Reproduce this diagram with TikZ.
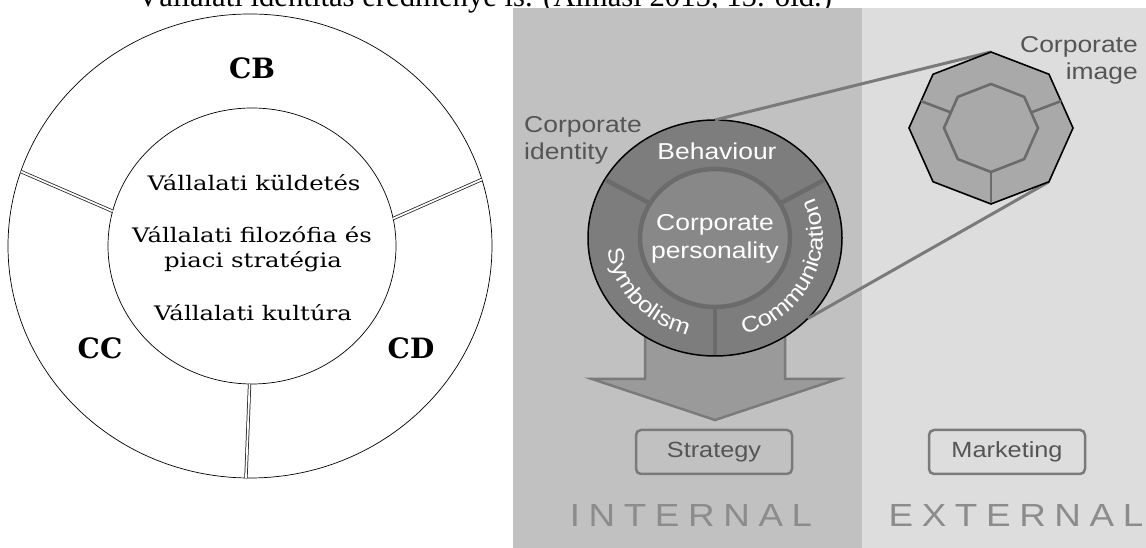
\documentclass[tikz,border=0pt]{standalone}
\usepackage{fontspec}
\setmainfont{Liberation Serif}
\newfontfamily\lserif[FakeStretch=1.22]{DejaVu Serif}
\newfontfamily\bserif{DejaVu Serif}
\newfontfamily\rsans[FakeStretch=1.15]{Liberation Sans}
\newfontfamily\spsans[FakeStretch=1.15,LetterSpace=27]{Liberation Sans}
\usetikzlibrary{shapes.geometric,decorations.text,calc}
\definecolor{intbg}{HTML}{C1C1C1}
\definecolor{extbg}{HTML}{DDDDDD}
\definecolor{ringfill}{HTML}{7D7D7D}
\definecolor{corefill}{HTML}{888888}
\definecolor{corebord}{HTML}{6B6B6B}
\definecolor{arrowfill}{HTML}{9A9A9A}
\definecolor{arrowbord}{HTML}{7A7A7A}
\definecolor{octfill}{HTML}{A9A9A9}
\definecolor{labgray}{HTML}{555555}
\definecolor{biggray}{HTML}{8C8C8C}
\definecolor{boxbord}{HTML}{7A7A7A}
\tikzset{
  dbl/.style={draw=black!90, line width=0.75pt, double=white, double distance=1.8pt},
  inlbl/.style={font=\lserif\fontsize{20}{20}\selectfont, inner sep=0},
  biglbl/.style={font=\bserif\bfseries\fontsize{28}{28}\selectfont, inner sep=0},
  ringdiv/.style={draw=corebord, line width=4.5pt},
  conn/.style={draw=arrowbord, line width=3pt},
  whitelbl/.style={text=white, font=\rsans\fontsize{23}{28}\selectfont, inner sep=0},
  greylbl/.style={text=labgray, font=\rsans\fontsize{23}{27}\selectfont, inner sep=0},
  boxnode/.style={draw=boxbord, line width=2.5pt, rounded corners=5pt, minimum width=156pt, minimum height=44pt, text=labgray, font=\rsans\fontsize{22}{22}\selectfont},
  zone/.style={text=biggray, font=\spsans\fontsize{32}{32}\selectfont, inner sep=0},
  octout/.style={draw=black, line width=1.6pt, fill=octfill, line join=miter},
  octin/.style={draw=corebord, line width=2.6pt, fill=octfill},
  octdiv/.style={draw=corebord, line width=2.6pt}
}
\begin{document}
\begin{tikzpicture}[x=1pt,y=1pt]
\useasboundingbox (0,0) rectangle (1146,548);
\clip (0,0) rectangle (1146,548);
\fill[white] (0,0) rectangle (1146,548);

% caption cut at the top
\node[anchor=base west, inner sep=0, font=\fontsize{30.7}{30.7}\selectfont] (cap) at (137,541) {Vállalati identitás eredménye is. (Almási 2015, 15. old.)};

% ---------------- left diagram ----------------
\node[ellipse, draw=black, line width=0.7pt, minimum width=484pt, minimum height=464pt, inner sep=0, outer sep=0] (outer) at (250,302) {};
\node[ellipse, draw=black, line width=0.7pt, minimum width=288pt, minimum height=276pt, inner sep=0, outer sep=0] (inner) at (252,302) {};
\draw[dbl] (outer.162) -- (inner.166);
\draw[dbl] (outer.16) -- (inner.11);
\draw[dbl] (inner.269) -- (outer.269);

\node[biglbl] (cb) at (252,480) {CB};
\node[biglbl] (cc) at (100,200) {CC};
\node[biglbl] (cd) at (411,200) {CD};
\node[inlbl] (t1) at (254,365) {Vállalati küldetés};
\node[inlbl] (t2) at (252,313) {Vállalati filozófia és};
\node[inlbl] (t3) at (253,286) {piaci stratégia};
\node[inlbl] (t4) at (253,235) {Vállalati kultúra};

% ---------------- right diagram ----------------
\fill[intbg] (513,0) rectangle (862,540);
\fill[extbg] (862,0) rectangle (1146,540);

% octagon points
\coordinate (oct) at (991,420);
\foreach \a/\n in {90/t,45/tr,0/r,-45/br,-90/b,-135/bl,180/l,135/tl}{
  \coordinate (o\n) at ($(oct)+(\a:82pt and 76pt)$);
  \coordinate (i\n) at ($(oct)+(\a:47pt and 44pt)$);
}

% big arrow
\draw[fill=arrowfill, draw=arrowbord, line width=2.5pt, line join=miter]
  (645,240) -- (645,169) -- (592,169) -- (715,128) -- (838,169) -- (785,169) -- (785,240);

% identity circle
\node[ellipse, fill=ringfill, draw=black, line width=1.5pt, minimum width=254pt, minimum height=236pt, inner sep=0, outer sep=0] (ci) at (715,310) {};

% connectors to the image octagon
\draw[conn] (ci.north) -- (ot);
\draw[conn] (ci.-41) -- (obr);

\node[ellipse, fill=corefill, draw=corebord, line width=4.5pt, minimum width=150pt, minimum height=138pt, inner sep=0, outer sep=0] (core) at (715,310) {};
\draw[ringdiv, shorten <=0.8pt] (ci.152) -- (core.152);
\draw[ringdiv, shorten <=0.8pt] (ci.28) -- (core.28);
\draw[ringdiv, shorten <=0.8pt] (ci.270) -- (core.270);

\node[whitelbl] (beh) at (717,397) {Behaviour};
\node[whitelbl, align=center] (cp) at (715,309) {Corporate\\personality};
\path[decorate, decoration={text along path, text align=center,
  text={|\rsans\fontsize{22}{22}\selectfont\color{white}|Symbolism}}]
  ([shift={(160:108pt and 100pt)}]715,310) arc[start angle=160, end angle=280, x radius=108pt, y radius=100pt];
\path[decorate, decoration={text along path, text align=center,
  text={|\rsans\fontsize{22}{22}\selectfont\color{white}|Communication}}]
  ([shift={(-85:108pt and 100pt)}]715,310) arc[start angle=-85, end angle=35, x radius=108pt, y radius=100pt];

\node[greylbl, align=left, anchor=west] (cid) at (524,408) {Corporate\\identity};
\node[greylbl, align=right, anchor=east] (cim) at (1138,488) {Corporate\\image};

% image octagon
\draw[octout] (ot) -- (otr) -- (or) -- (obr) -- (ob) -- (obl) -- (ol) -- (otl) -- cycle;
\draw[octdiv] ($(ol)!0.5!(otl)$) -- ($(il)!0.5!(itl)$);
\draw[octdiv] ($(or)!0.5!(otr)$) -- ($(ir)!0.5!(itr)$);
\draw[octdiv] (ib) -- ($(ob)+(0,1)$);
\draw[octin] (it) -- (itr) -- (ir) -- (ibr) -- (ib) -- (ibl) -- (il) -- (itl) -- cycle;

% boxes and zone labels
\node[boxnode] (strat) at (714,96) {Strategy};
\node[boxnode] (mark) at (1007,96) {Marketing};
\node[zone] (int) at (691,33) {INTERNAL};
\node[zone] (ext) at (1016,33) {EXTERNAL};
\end{tikzpicture}
\end{document}
